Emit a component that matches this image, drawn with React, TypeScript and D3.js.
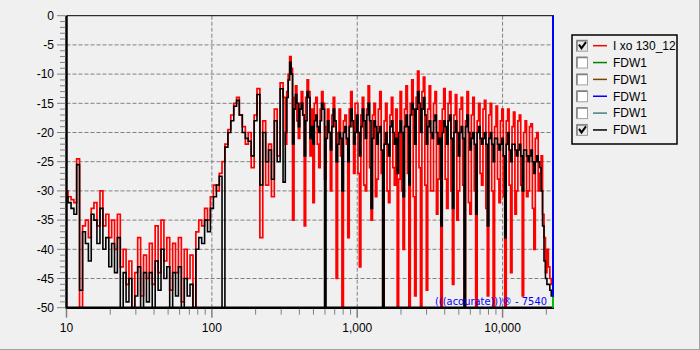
import React from "react";
import * as d3 from "d3";

// frequency grid (Hz): 1/50 decade up to ~300 Hz, 1/100 decade above
const FREQS = [
  10, 10.5, 11, 11.5, 12, 12.6, 13.2, 13.8, 14.5, 15.1, 15.8, 16.6, 17.4, 18.2, 19.1, 20, 20.9, 21.9, 22.9, 24,
  25.1, 26.3, 27.5, 28.8, 30.2, 31.6, 33.1, 34.7, 36.3, 38, 39.8, 41.7, 43.7, 45.7, 47.9, 50.1, 52.5, 55, 57.5, 60.3,
  63.1, 66.1, 69.2, 72.4, 75.9, 79.4, 83.2, 87.1, 91.2, 95.5,
  100, 105, 110, 115, 120, 126, 132, 138, 145, 151, 158, 166, 174, 182, 191, 200, 209, 219, 229, 240,
  251, 263, 275, 288, 302,
  316, 324, 331, 339, 347, 355, 363, 372, 380, 389, 398, 407, 417, 427, 437, 447, 457, 468, 479, 490,
  501, 513, 525, 537, 550, 562, 575, 589, 603, 617, 631, 646, 661, 676, 692, 708, 724, 741, 759, 776,
  794, 813, 832, 851, 871, 891, 912, 933, 955, 977,
  1000, 1023, 1047, 1072, 1096, 1122, 1148, 1175, 1202, 1230, 1259, 1288, 1318, 1349, 1380, 1413, 1445, 1479, 1514, 1549,
  1585, 1622, 1660, 1698, 1738, 1778, 1820, 1862, 1905, 1950, 1995, 2042, 2089, 2138, 2188, 2239, 2291, 2344, 2399, 2455,
  2512, 2570, 2630, 2692, 2754, 2818, 2884, 2951, 3020, 3090, 3162, 3236, 3311, 3388, 3467, 3548, 3631, 3715, 3802, 3890,
  3981, 4074, 4169, 4266, 4365, 4467, 4571, 4677, 4786, 4898, 5012, 5129, 5248, 5370, 5495, 5623, 5754, 5888, 6026, 6166,
  6310, 6457, 6607, 6761, 6918, 7079, 7244, 7413, 7586, 7762, 7943, 8128, 8318, 8511, 8710, 8913, 9120, 9333, 9550, 9772,
  10000, 10230, 10470, 10720, 10960, 11220, 11480, 11750, 12020, 12300, 12590, 12880, 13180, 13490, 13800, 14130, 14450, 14790, 15140, 15490,
  15850, 16220, 16600, 16980, 17380, 17780, 18200, 18620, 19050, 19500, 19950, 20420, 20890, 21380, 21880,
];

// "I xo 130_12" (red)
const RED_DB = [
  -30, -31, -31.5, -32, -24.5, -50, -36, -35, -38, -33,
  -32, -36, -30, -36, -34, -38, -35, -40, -34, -43,
  -40, -46, -42, -50, -44, -38, -48, -41, -45, -39,
  -46, -36, -44, -35, -42, -38, -47, -39, -44, -38,
  -49, -40, -45, -41, -50, -37, -35, -36, -33, -35,
  -31, -29, -30, -27, -25, -22, -19.5, -17, -15, -14,
  -17, -19, -22, -20, -26, -17, -12.5, -38, -18, -29,
  -22, -31, -16, -24, -11.5,
  -14, -22, -13, -10, -7, -9, -35, -14, -12, -18,
  -21, -15, -13, -17, -36, -14, -11, -13, -24, -16,
  -32, -15, -14, -22, -26, -16, -13, -15, -28, -19,
  -16, -20, -30, -17, -14, -19, -45, -20, -16, -24,
  -50, -18, -17, -22, -38, -16, -13, -19, -27, -15,
  -15, -27, -43, -17, -14, -29, -30, -16, -12, -26,
  -35, -17, -15, -31, -28, -16, -13, -27, -50, -18,
  -15, -30, -32, -17, -14, -26, -29, -16, -50, -28,
  -13, -30, -40, -16, -12, -27, -50, -15, -11, -31,
  -48, -14, -9.5, -26, -50, -13, -10.5, -29, -47, -16,
  -12, -30, -30, -15, -13, -34, -28, -18, -50, -16,
  -12.5, -28, -33, -15, -13, -30, -46, -17, -13.5, -35,
  -30, -16, -14, -29, -50, -18, -13, -32, -34, -17,
  -14, -30, -50, -18, -15, -27, -29, -16, -14.5, -33,
  -48, -17, -15, -30, -50, -19, -15.5, -28, -32, -18,
  -16, -31, -50, -18, -16, -29, -44, -19, -16.5, -34,
  -30, -18, -17, -29, -48, -20, -18, -31, -30, -19,
  -18.5, -33, -40, -21, -20, -30, -27, -24, -34, -38,
  -44, -40, -43, -45, -46,
];

// "FDW1" (black)
const BLACK_DB = [
  -31, -32, -33, -34, -25.5, -47, -37, -39, -42, -34,
  -35, -39, -33, -40, -38, -43, -39, -44, -38, -50,
  -44, -49, -45, -50, -48, -43, -50, -44, -49, -44,
  -50, -42, -47, -40, -45, -43, -50, -44, -48, -43,
  -50, -45, -48, -46, -50, -40, -38, -39, -35, -37,
  -33, -31, -29, -27.5, -50, -22.5, -20, -18, -15.5, -14.5,
  -17, -20, -21, -21.5, -24, -18, -13.5, -29, -20, -25,
  -23, -28, -18, -25, -12.5,
  -28.5, -20, -14, -11, -8, -10, -22, -16, -13.5, -15,
  -19, -16, -15, -17, -24, -18, -13, -14, -21, -19,
  -22, -18, -17, -19, -20, -18, -15, -16, -50, -21,
  -18, -20, -23, -19, -16, -18, -25, -22, -20, -21,
  -30, -20, -19, -21, -25, -19, -16, -18, -22, -20,
  -17, -20, -24, -19, -16, -18, -21, -17, -15, -18,
  -33, -21, -18, -19, -22, -20, -19, -23, -50, -22,
  -20, -22, -24, -19, -18, -20, -22, -21, -27, -20,
  -18, -20, -31, -19, -17, -19, -29, -17, -15, -16,
  -22, -16, -13, -15, -20, -16, -14, -17, -22, -19,
  -18, -20, -21, -18, -17, -20, -22, -21, -36, -20,
  -18, -19, -22, -18, -17, -21, -33, -20, -18, -20,
  -24, -20, -19, -21, -50, -19, -17, -20, -23, -21,
  -20, -22, -34, -20, -19, -21, -22, -21, -20, -22,
  -36, -21, -20, -22, -25, -21, -21, -22, -23, -22,
  -21, -24, -38, -22, -20, -23, -25, -22, -22, -23,
  -24, -23, -22, -24, -30, -23, -23, -24, -25, -24,
  -23, -25, -27, -25, -24, -25, -26, -30, -36, -42,
  -45, -46, -46, -47, -48,
];

const Y_TICKS = [0, -5, -10, -15, -20, -25, -30, -35, -40, -45, -50];
const X_TICKS = [10, 100, 1000, 10000];
const X_TICK_LABELS = ["10", "100", "1,000", "10,000"];

const LEGEND_LABELS = ["I xo 130_12", "FDW1", "FDW1", "FDW1", "FDW1", "FDW1"];
const LEGEND_COLORS = ["#ff0000", "#008000", "#804000", "#0000ff", "#408080", "#000000"];
const LEGEND_CHECKED = [true, false, false, false, false, true];

const FONT = "'Liberation Sans', Arial, sans-serif";

export default function App() {
  const W = 700;
  const H = 350;
  const left = 66.5;
  const top = 15.7;
  const bottom = 307.7;
  const right = 554;

  const x = d3.scaleLog().domain([10, 22050]).range([left, 552.5]);
  const y = d3.scaleLinear().domain([-50, 0]).range([bottom, top]);

  const line = d3
    .line<[number, number]>()
    .x((d) => x(d[0]))
    .y((d) => y(d[1]))
    .curve(d3.curveStep);

  const n = Math.min(FREQS.length, RED_DB.length, BLACK_DB.length);
  const redPath = line(d3.range(n).map((i) => [FREQS[i], RED_DB[i]] as [number, number])) || "";
  const blackPath = line(d3.range(n).map((i) => [FREQS[i], BLACK_DB[i]] as [number, number])) || "";

  const minorY = d3.range(0, -51, -1).filter((v) => v % 5 !== 0);
  const minorX: number[] = [];
  [10, 100, 1000, 10000].forEach((dec) => {
    for (let k = 2; k <= 9; k++) if (dec * k < 22050) minorX.push(dec * k);
  });

  const legX = 572;
  const legY = 35;
  const rowStep = 16.85;

  return (
    <div style={{ position: "absolute", left: 0, top: 0, width: W, height: H }}>
      <svg width={W} height={H} style={{ display: "block" }}>
        <rect x={0} y={0} width={W} height={H} fill="#f0f0f0" />
        <line x1={0} x2={W} y1={349.5} y2={349.5} stroke="#a0a0a0" />
        <line x1={699.5} x2={699.5} y1={0} y2={H} stroke="#a0a0a0" />

        <defs>
          <clipPath id="plot">
            <rect x={left} y={top} width={right - left} height={bottom - top} />
          </clipPath>
        </defs>

        {/* grid */}
        {Y_TICKS.filter((v) => v !== 0 && v !== -50).map((v) => (
          <line key={"gy" + v} x1={left} x2={right} y1={y(v)} y2={y(v)} stroke="#808080" strokeDasharray="4,2" />
        ))}
        {X_TICKS.slice(1).map((v) => (
          <line key={"gx" + v} x1={x(v)} x2={x(v)} y1={top} y2={bottom} stroke="#808080" strokeDasharray="4,2" />
        ))}

        {/* series */}
        <g clipPath="url(#plot)">
          <path d={redPath} fill="none" stroke="#ff0000" strokeWidth={1.7} />
          <path d={blackPath} fill="none" stroke="#000000" strokeWidth={1.6} />
        </g>

        {/* frame */}
        <line x1={left} x2={right} y1={top} y2={top} stroke="#000" strokeWidth={1} />
        <line x1={left} x2={left} y1={top} y2={bottom + 1} stroke="#000" strokeWidth={2.5} />
        <line x1={left} x2={right} y1={bottom} y2={bottom} stroke="#000" strokeWidth={2.5} />
        <line x1={553} x2={553} y1={top} y2={bottom} stroke="#0000ff" strokeWidth={2} />
        <line x1={553} x2={553} y1={297} y2={bottom} stroke="#00c000" strokeWidth={2} />

        {/* y axis */}
        {minorY.map((v) => (
          <line key={"my" + v} x1={60} x2={left - 1} y1={y(v)} y2={y(v)} stroke="#808080" />
        ))}
        {Y_TICKS.map((v) => (
          <g key={"ty" + v}>
            <line x1={57} x2={left - 1} y1={y(v)} y2={y(v)} stroke="#808080" />
            <text x={54} y={y(v)} dy="0.36em" textAnchor="end" fontFamily={FONT} fontSize={12} fill="#000">
              {v}
            </text>
          </g>
        ))}

        {/* x axis */}
        {minorX.map((v) => (
          <line key={"mx" + v} x1={x(v)} x2={x(v)} y1={bottom + 1} y2={bottom + 7} stroke="#808080" />
        ))}
        {X_TICKS.map((v, i) => (
          <g key={"tx" + v}>
            <line x1={x(v)} x2={x(v)} y1={bottom + 1} y2={bottom + 10} stroke="#808080" strokeWidth={1.5} />
            <text x={x(v)} y={332} textAnchor="middle" fontFamily={FONT} fontSize={12} fill="#000">
              {X_TICK_LABELS[i]}
            </text>
          </g>
        ))}

        {/* watermark */}
        <text x={435} y={305} fontFamily="'DejaVu Sans', sans-serif" fontSize={11} fill="#0000ff"
          textLength={112} lengthAdjust="spacingAndGlyphs">
          (((acourate)))® - 7540
        </text>

        {/* legend */}
        <rect x={legX} y={legY} width={105} height={109} fill="#f0f0f0" stroke="#000" strokeWidth={1.5} />
        {LEGEND_LABELS.map((lab, i) => {
          const cy = 45.7 + i * rowStep;
          return (
            <g key={"lg" + i}>
              <rect x={576.5} y={cy - 5.5} width={11} height={11} fill={LEGEND_CHECKED[i] ? "#e8e8e8" : "#ffffff"}
                stroke="#a0a0a0" strokeWidth={1} />
              <path d={`M577 ${cy - 5} H587 M577 ${cy - 5} V${cy + 5}`} stroke="#808080" strokeWidth={1.5} fill="none" />
              {LEGEND_CHECKED[i] && (
                <path d={`M579 ${cy - 1} L581.5 ${cy + 2.5} L586 ${cy - 3.5}`} stroke="#000" strokeWidth={2} fill="none" />
              )}
              <line x1={593} x2={607} y1={cy} y2={cy} stroke={LEGEND_COLORS[i]} strokeWidth={1.5} />
              <text x={613} y={cy} dy="0.36em" fontFamily={FONT} fontSize={12} fill="#000">
                {lab}
              </text>
            </g>
          );
        })}
      </svg>
    </div>
  );
}
